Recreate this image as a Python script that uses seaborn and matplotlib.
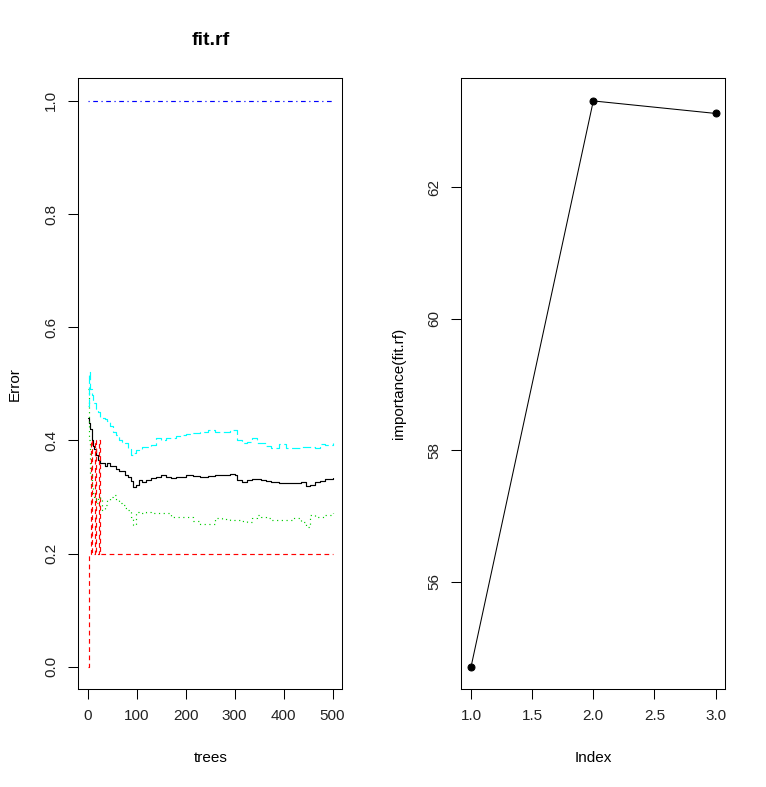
import numpy as np
import pandas as pd
import matplotlib
matplotlib.use("Agg")
import matplotlib.pyplot as plt
import seaborn as sns

# error rates (steps at these tree counts)
trees = [1, 3, 5, 8, 11, 14, 18, 22, 26, 30, 35, 40, 46, 52, 58, 64, 70, 76, 82, 88,
         93, 98, 105, 112, 120, 130, 140, 150, 160, 170, 180, 190, 200, 215, 230, 245,
         260, 275, 290, 300, 305, 315, 325, 335, 345, 355, 365, 375, 390, 405, 420, 435,
         445, 455, 465, 475, 485, 500]
oob_err = [0.44, 0.43, 0.42, 0.40, 0.39, 0.385, 0.375, 0.365, 0.36, 0.36, 0.355, 0.36,
           0.355, 0.354, 0.35, 0.346, 0.345, 0.339, 0.335, 0.328, 0.318, 0.322, 0.33,
           0.326, 0.33, 0.333, 0.336, 0.339, 0.336, 0.333, 0.335, 0.336, 0.339, 0.337,
           0.336, 0.337, 0.339, 0.339, 0.341, 0.339, 0.330, 0.327, 0.330, 0.331, 0.331,
           0.330, 0.329, 0.327, 0.325, 0.324, 0.325, 0.327, 0.319, 0.322, 0.327, 0.329,
           0.331, 0.333]
cls2_err = [0.49, 0.40, 0.34, 0.32, 0.307, 0.30, 0.29, 0.30, 0.295, 0.277, 0.285, 0.295,
            0.30, 0.304, 0.295, 0.29, 0.285, 0.28, 0.277, 0.265, 0.25, 0.274, 0.271,
            0.272, 0.274, 0.271, 0.272, 0.272, 0.271, 0.264, 0.264, 0.265, 0.265, 0.258,
            0.253, 0.253, 0.262, 0.261, 0.259, 0.26, 0.26, 0.258, 0.256, 0.262, 0.268,
            0.265, 0.262, 0.26, 0.259, 0.259, 0.262, 0.256, 0.247, 0.268, 0.265, 0.265,
            0.268, 0.271]
cls4_err = [0.46, 0.52, 0.49, 0.48, 0.47, 0.466, 0.455, 0.45, 0.44, 0.44, 0.437, 0.435,
            0.425, 0.415, 0.41, 0.40, 0.398, 0.395, 0.385, 0.375, 0.378, 0.383, 0.385,
            0.389, 0.388, 0.392, 0.404, 0.401, 0.404, 0.404, 0.408, 0.41, 0.412, 0.413,
            0.415, 0.418, 0.415, 0.415, 0.419, 0.418, 0.401, 0.395, 0.398, 0.405, 0.396,
            0.395, 0.39, 0.386, 0.393, 0.386, 0.386, 0.389, 0.389, 0.389, 0.386, 0.393,
            0.392, 0.395]
cls1_trees = [1, 2, 7, 8, 15, 17, 24, 26, 500]
cls1_err = [0.0, 0.2, 0.4, 0.2, 0.4, 0.2, 0.4, 0.2, 0.2]
cls3_trees = [1, 500]
cls3_err = [1.0, 1.0]

# variable importance
imp_index = [1, 2, 3]
imp_values = [54.71, 63.31, 63.12]

sns.set_style("ticks")
plt.rcParams['font.family'] = ['Liberation Sans', 'DejaVu Sans']
plt.rcParams['axes.edgecolor'] = 'black'
plt.rcParams['axes.linewidth'] = 0.75
plt.rcParams['text.color'] = 'black'
plt.rcParams['axes.labelcolor'] = 'black'

W, H = 766, 787
fig = plt.figure(figsize=(W / 100, H / 100), dpi=100)


def px_axes(x0, y0, x1, y1):
    return fig.add_axes([x0 / W, 1 - y1 / H, (x1 - x0) / W, (y1 - y0) / H])


ax1 = px_axes(78.3, 78.3, 342.3, 689.3)
ax2 = px_axes(461.3, 78.3, 725.3, 689.3)

lw = 0.75
series = [
    (trees, oob_err, 'black', '-'),
    (cls1_trees, cls1_err, 'red', (0, (4, 3))),
    (trees, cls2_err, '#00CD00', (0, (1, 3))),
    (cls3_trees, cls3_err, 'blue', (0, (1, 3, 4, 3))),
    (trees, cls4_err, 'cyan', (0, (7, 3))),
]
for xs, ys, col, ls in series:
    d = pd.DataFrame({'trees': xs, 'err': ys})
    sns.lineplot(data=d, x='trees', y='err', ax=ax1, color=col, linestyle=ls,
                 linewidth=0.85, drawstyle='steps-post', estimator=None)

ax1.set_xlim(-18.96, 519.96)
ax1.set_ylim(-0.04, 1.04)
ax1.set_xticks([0, 100, 200, 300, 400, 500])
ax1.set_yticks([0.0, 0.2, 0.4, 0.6, 0.8, 1.0])
ax1.set_yticklabels(['0.0', '0.2', '0.4', '0.6', '0.8', '1.0'])
ax1.set_xlabel('trees', fontsize=11, labelpad=20)
ax1.set_ylabel('Error', fontsize=11, labelpad=16)
ax1.set_title('fit.rf', fontsize=14, fontweight='bold', pad=24)

imp = pd.DataFrame({'Index': imp_index, 'imp': imp_values})
sns.lineplot(data=imp, x='Index', y='imp', ax=ax2, color='black', linewidth=lw,
             marker='o', markersize=5, markeredgecolor='black', estimator=None)
ax2.set_xlim(0.92, 3.08)
ax2.set_ylim(54.366, 63.654)
ax2.set_xticks([1.0, 1.5, 2.0, 2.5, 3.0])
ax2.set_xticklabels(['1.0', '1.5', '2.0', '2.5', '3.0'])
ax2.set_yticks([56, 58, 60, 62])
ax2.set_xlabel('Index', fontsize=11, labelpad=20)
ax2.set_ylabel('importance(fit.rf)', fontsize=11, labelpad=15)

for ax in (ax1, ax2):
    ax.grid(False)
    for s in ax.spines.values():
        s.set_visible(True)
        s.set_linewidth(lw)
        s.set_color('black')
    ax.tick_params(axis='both', direction='out', length=7, width=lw, color='black',
                   labelsize=11, pad=7.5, labelcolor='#222222')
    for lab in ax.get_yticklabels():
        lab.set_rotation(90)
        lab.set_va('center')

fig.savefig('out.png', dpi=100, facecolor='white')
